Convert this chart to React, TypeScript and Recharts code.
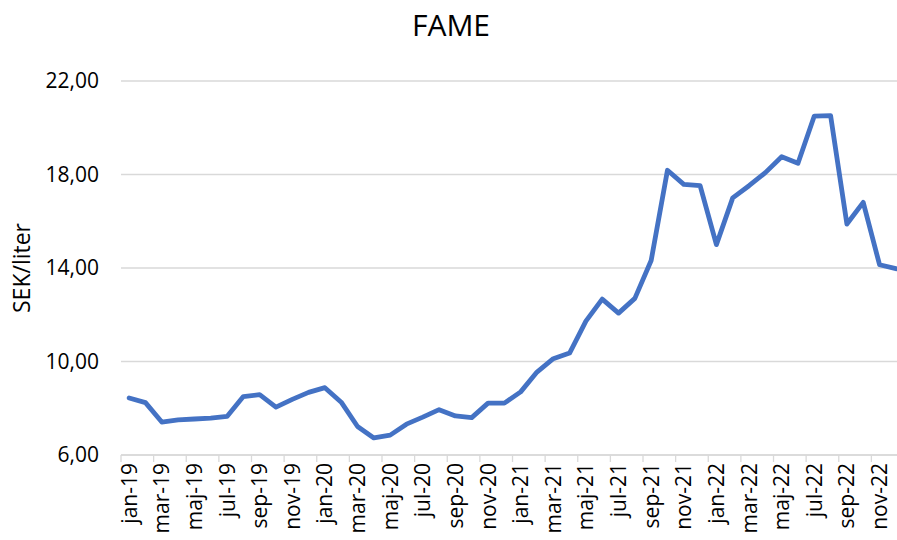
import React from "react";
import {
  LineChart,
  Line,
  XAxis,
  YAxis,
  CartesianGrid,
  Label,
} from "recharts";

const months = ["jan", "feb", "mar", "apr", "maj", "jun", "jul", "aug", "sep", "okt", "nov", "dec"];
const years = ["19", "20", "21", "22"];
const categories = years.flatMap((y) => months.map((m) => `${m}-${y}`));

const fame2019 = [8.44, 8.24, 7.41, 7.5, 7.54, 7.58, 7.65, 8.5, 8.58, 8.05, 8.38, 8.68];
const fame2020 = [8.88, 8.26, 7.22, 6.73, 6.85, 7.32, 7.62, 7.94, 7.67, 7.6, 8.22, 8.22];
const fame2021 = [8.7, 9.55, 10.12, 10.36, 11.73, 12.67, 12.07, 12.7, 14.32, 18.18, 17.58, 17.52];
const fame2022 = [15.0, 17.0, 17.52, 18.08, 18.76, 18.48, 20.5, 20.52, 15.88, 16.81, 14.14, 13.97];
const fame = [...fame2019, ...fame2020, ...fame2021, ...fame2022];

const yTicks = [6, 10, 14, 18, 22];

const data = categories.map((month, i) => ({ month, fame: fame[i] }));

const FONT = "'Open Sans', sans-serif";
const GRID = "#d9d9d9";
const HALF_STEP = 8.15;

const MonthTick = (props: any) => {
  const { x, y, payload } = props;
  return (
    <g>
      <line x1={x - HALF_STEP} x2={x - HALF_STEP} y1={y} y2={y + 7} stroke={GRID} strokeWidth={1.3} />
      <text
        x={x}
        y={y + 8}
        transform={`rotate(-90, ${x}, ${y + 8})`}
        textAnchor="end"
        dy="0.36em"
        fill="#000"
        fontSize={21}
        fontFamily={FONT}
      >
        {payload.value}
      </text>
    </g>
  );
};

export default function App() {
  return (
    <div
      style={{
        position: "absolute",
        left: 0,
        top: 0,
        width: 897,
        height: 540,
        overflow: "hidden",
        background: "#fff",
      }}
    >
      <div
        style={{
          position: "absolute",
          left: 0,
          width: 902,
          top: 4,
          textAlign: "center",
          fontFamily: FONT,
          fontSize: 30,
          color: "#000",
        }}
      >
        FAME
      </div>
      <LineChart
        width={904}
        height={540}
        data={data}
        margin={{ top: 81, right: 0, left: 0, bottom: 0 }}
      >
        <CartesianGrid vertical={false} stroke={GRID} strokeWidth={1.3} />
        <XAxis
          dataKey="month"
          interval={1}
          height={85}
          padding={{ left: HALF_STEP, right: HALF_STEP }}
          axisLine={{ stroke: GRID, strokeWidth: 1.3 }}
          tickLine={false}
          tickSize={0}
          tickMargin={0}
          tick={<MonthTick />}
        />
        <YAxis
          width={121}
          domain={[6, 22]}
          ticks={yTicks}
          interval={0}
          axisLine={false}
          tickLine={false}
          tickSize={0}
          tickMargin={22}
          tickFormatter={(v: number) => v.toFixed(2).replace(".", ",")}
          tick={{ fill: "#000", fontSize: 21, fontFamily: FONT }}
        >
          <Label
            content={(p: any) => {
              const vb = p.viewBox;
              const cx = vb.x + 22;
              const cy = vb.y + vb.height / 2;
              return (
                <text
                  x={cx}
                  y={cy}
                  transform={`rotate(-90, ${cx}, ${cy})`}
                  textAnchor="middle"
                  dy="0.36em"
                  fill="#000"
                  fontSize={23}
                  fontFamily={FONT}
                >
                  SEK/liter
                </text>
              );
            }}
          />
        </YAxis>
        <Line
          type="linear"
          dataKey="fame"
          stroke="#4472C4"
          strokeWidth={4.8}
          strokeLinejoin="round"
          strokeLinecap="round"
          dot={false}
          activeDot={false}
          isAnimationActive={false}
        />
      </LineChart>
    </div>
  );
}
